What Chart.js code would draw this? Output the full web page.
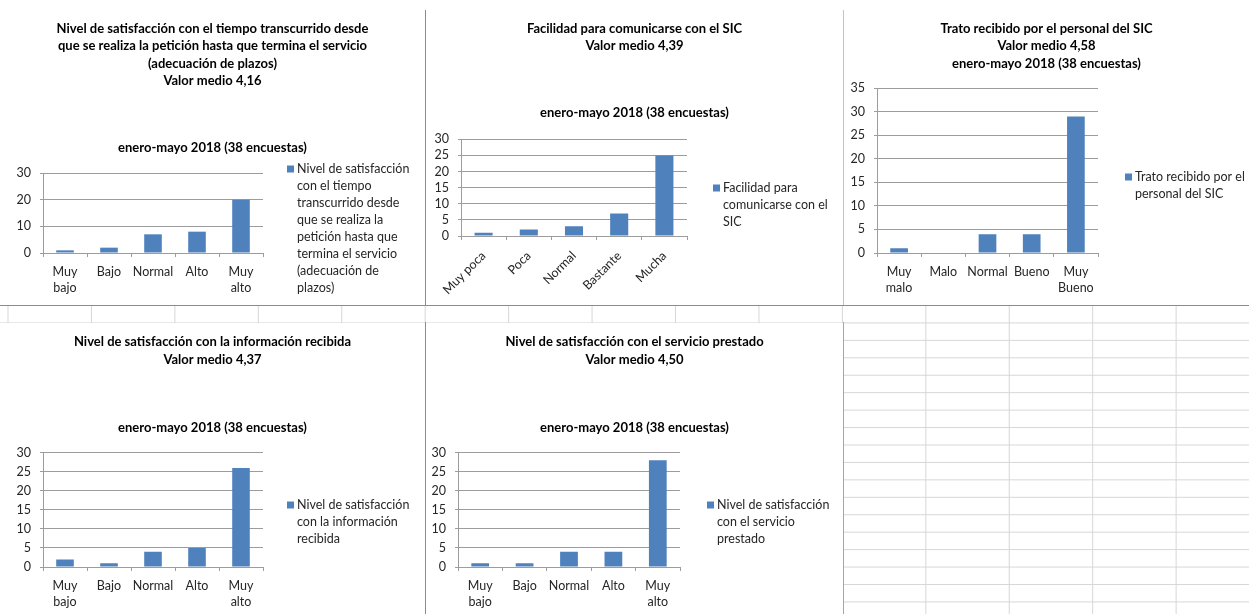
<!DOCTYPE html>
<html>
<head>
<meta charset="utf-8">
<script src="https://cdn.jsdelivr.net/npm/chart.js@4.4.1/dist/chart.umd.min.js"></script>
<style>
  html, body { margin: 0; padding: 0; background: #fff; }
  body { position: relative; width: 1249px; height: 614px; overflow: hidden; }
  canvas { position: absolute; background: #fff; }
  .cells {
    position: absolute; left: 0; top: 305px; width: 1249px; height: 309px;
    background-image:
      linear-gradient(to right, #d6d6d6 1px, transparent 1px),
      linear-gradient(to bottom, #d6d6d6 1px, transparent 1px);
    background-size: 83.45px 17.45px;
    background-position: 7.5px 0;
  }
  .line { position: absolute; }
</style>
</head>
<body>
<div class="cells"></div>
<canvas id="c1" width="425" height="305" style="left:0;top:0"></canvas>
<canvas id="c2" width="417" height="305" style="left:426px;top:0"></canvas>
<canvas id="c3" width="405" height="305" style="left:844px;top:0"></canvas>
<canvas id="c4" width="425" height="291" style="left:0;top:323px"></canvas>
<canvas id="c5" width="417" height="291" style="left:426px;top:323px"></canvas>
<div class="line" style="left:0;top:305px;width:1249px;height:1px;background:#8c8c8c"></div>
<div class="line" style="left:425px;top:10px;width:1px;height:295px;background:#8c8c8c"></div>
<div class="line" style="left:425px;top:322px;width:1px;height:292px;background:#8c8c8c"></div>
<div class="line" style="left:843px;top:10px;width:1px;height:295px;background:#c4c4c4"></div>
<div class="line" style="left:843px;top:322px;width:1px;height:292px;background:#a6a6a6"></div>

<script>
// categories
const nivelCats = ['Muy bajo', 'Bajo', 'Normal', 'Alto', 'Muy alto'];
const facilidadCats = ['Muy poca', 'Poca', 'Normal', 'Bastante', 'Mucha'];
const tratoCats = ['Muy malo', 'Malo', 'Normal', 'Bueno', 'Muy Bueno'];

// number of answers per category (38 encuestas)
const plazosValues = [1, 2, 7, 8, 20];
const facilidadValues = [1, 2, 3, 7, 25];
const tratoValues = [1, 0, 4, 4, 29];
const informacionValues = [2, 1, 4, 5, 26];
const servicioValues = [1, 1, 4, 4, 28];

// y axis tick labels
const plazosTicks = [0, 10, 20, 30];
const fiveStepTicks = [0, 5, 10, 15, 20, 25, 30];
const tratoTicks = [0, 5, 10, 15, 20, 25, 30, 35];

const periodo = 'enero-mayo 2018 (38 encuestas)';

const BAR = '#4F81BD';
const GRID = '#9c9c9c';
const TEXT = '#262626';

Chart.defaults.font.family = 'Lato';
Chart.defaults.color = TEXT;
Chart.defaults.animation = false;

// legend drawn at the right of the plot, text wrapped the way Excel does it
const sideLegend = {
  id: 'sideLegend',
  afterDraw(chart, args, opts) {
    if (!opts.lines) return;
    const ctx = chart.ctx;
    ctx.save();
    ctx.fillStyle = BAR;
    ctx.fillRect(opts.x, opts.y - 3.5, 7, 7);
    ctx.fillStyle = TEXT;
    ctx.font = '12.5px Lato';
    ctx.textBaseline = 'middle';
    ctx.textAlign = 'left';
    opts.lines.forEach((line, i) => {
      ctx.fillText(line, opts.x + 10, opts.y + i * 17);
    });
    ctx.restore();
  }
};
Chart.register(sideLegend);

function makeChart(id, g) {
  const titleFont = { size: 13, weight: 'bold', lineHeight: '17.4px' };
  return new Chart(document.getElementById(id), {
    type: 'bar',
    data: {
      labels: g.labels,
      datasets: [{
        label: g.label,
        data: g.values,
        backgroundColor: BAR,
        barPercentage: 0.4,
        categoryPercentage: 1,
      }],
    },
    options: {
      responsive: false,
      events: [],
      scales: {
        x: {
          grid: { drawOnChartArea: false, drawTicks: true, tickLength: 4, color: GRID },
          border: { color: GRID },
          ticks: {
            autoSkip: false,
            minRotation: g.rotate ? 45 : 0,
            maxRotation: g.rotate ? 45 : 0,
            padding: g.rotate ? 8 : 7,
            font: { size: 12.5, lineHeight: '16px' },
            color: TEXT,
            callback: function (v) {
              const s = this.getLabelForValue(v);
              return g.rotate ? s : s.split(' ');
            },
          },
          afterFit: (scale) => { scale.height = g.bottom; },
        },
        y: {
          min: 0,
          max: g.ticks[g.ticks.length - 1],
          afterBuildTicks: (scale) => { scale.ticks = g.ticks.map(v => ({ value: v })); },
          grid: { color: GRID, tickLength: 3 },
          border: { color: GRID },
          ticks: { autoSkip: false, padding: 9, font: { size: 12.5 }, color: TEXT },
          afterFit: (scale) => { scale.width = g.left; },
        },
        // empty axis on the right that only keeps room for the legend
        legendSpace: {
          type: 'linear',
          position: 'right',
          grid: { display: false, drawTicks: false },
          border: { display: false },
          ticks: { display: false },
          afterFit: (scale) => { scale.width = g.right; },
        },
      },
      plugins: {
        legend: { display: false },
        tooltip: { enabled: false },
        title: {
          display: true,
          text: g.title,
          color: '#000',
          font: titleFont,
          padding: g.titlePad,
        },
        subtitle: {
          display: !!g.subtitle,
          text: g.subtitle || '',
          color: '#000',
          font: titleFont,
          padding: g.subPad || 0,
        },
        sideLegend: g.legend,
      },
    },
  });
}

makeChart('c1', {
  labels: nivelCats,
  values: plazosValues,
  label: 'Nivel de satisfacción con el tiempo transcurrido desde que se realiza la petición hasta que termina el servicio (adecuación de plazos)',
  ticks: plazosTicks,
  title: ['Nivel de satisfacción con el tiempo transcurrido desde',
          'que se realiza la petición hasta que termina el servicio',
          '(adecuación de plazos)',
          'Valor medio 4,16'],
  titlePad: { top: 20, bottom: 50 },
  subtitle: periodo,
  subPad: { top: 0, bottom: 16 },
  left: 43, right: 162, bottom: 52,
  legend: { x: 287, y: 169, lines: ['Nivel de satisfacción', 'con el tiempo', 'transcurrido desde',
    'que se realiza la', 'petición hasta que', 'termina el servicio', '(adecuación de', 'plazos)'] },
});

makeChart('c2', {
  labels: facilidadCats,
  values: facilidadValues,
  label: 'Facilidad para comunicarse con el SIC',
  ticks: fiveStepTicks,
  title: ['Facilidad para comunicarse con el SIC', 'Valor medio 4,39'],
  titlePad: { top: 20, bottom: 49.5 },
  subtitle: periodo,
  subPad: { top: 0, bottom: 17.6 },
  left: 35, right: 156, bottom: 69, rotate: true,
  legend: { x: 287, y: 188, lines: ['Facilidad para', 'comunicarse con el', 'SIC'] },
});

makeChart('c3', {
  labels: tratoCats,
  values: tratoValues,
  label: 'Trato recibido por el personal del SIC',
  ticks: tratoTicks,
  title: ['Trato recibido por el personal del SIC', 'Valor medio 4,58', periodo],
  titlePad: { top: 20, bottom: 16 },
  left: 33, right: 151, bottom: 52,
  legend: { x: 281, y: 177, lines: ['Trato recibido por el', 'personal del SIC'] },
});

makeChart('c4', {
  labels: nivelCats,
  values: informacionValues,
  label: 'Nivel de satisfacción con la información recibida',
  ticks: fiveStepTicks,
  title: ['Nivel de satisfacción con la información recibida', 'Valor medio 4,37'],
  titlePad: { top: 10.3, bottom: 51.2 },
  subtitle: periodo,
  subPad: { top: 0, bottom: 16 },
  left: 43, right: 162, bottom: 47,
  legend: { x: 287, y: 182, lines: ['Nivel de satisfacción', 'con la información', 'recibida'] },
});

makeChart('c5', {
  labels: nivelCats,
  values: servicioValues,
  label: 'Nivel de satisfacción con el servicio prestado',
  ticks: fiveStepTicks,
  title: ['Nivel de satisfacción con el servicio prestado', 'Valor medio 4,50'],
  titlePad: { top: 10.3, bottom: 51.2 },
  subtitle: periodo,
  subPad: { top: 0, bottom: 16 },
  left: 32, right: 163, bottom: 47,
  legend: { x: 281, y: 182, lines: ['Nivel de satisfacción', 'con el servicio', 'prestado'] },
});
</script>
</body>
</html>
